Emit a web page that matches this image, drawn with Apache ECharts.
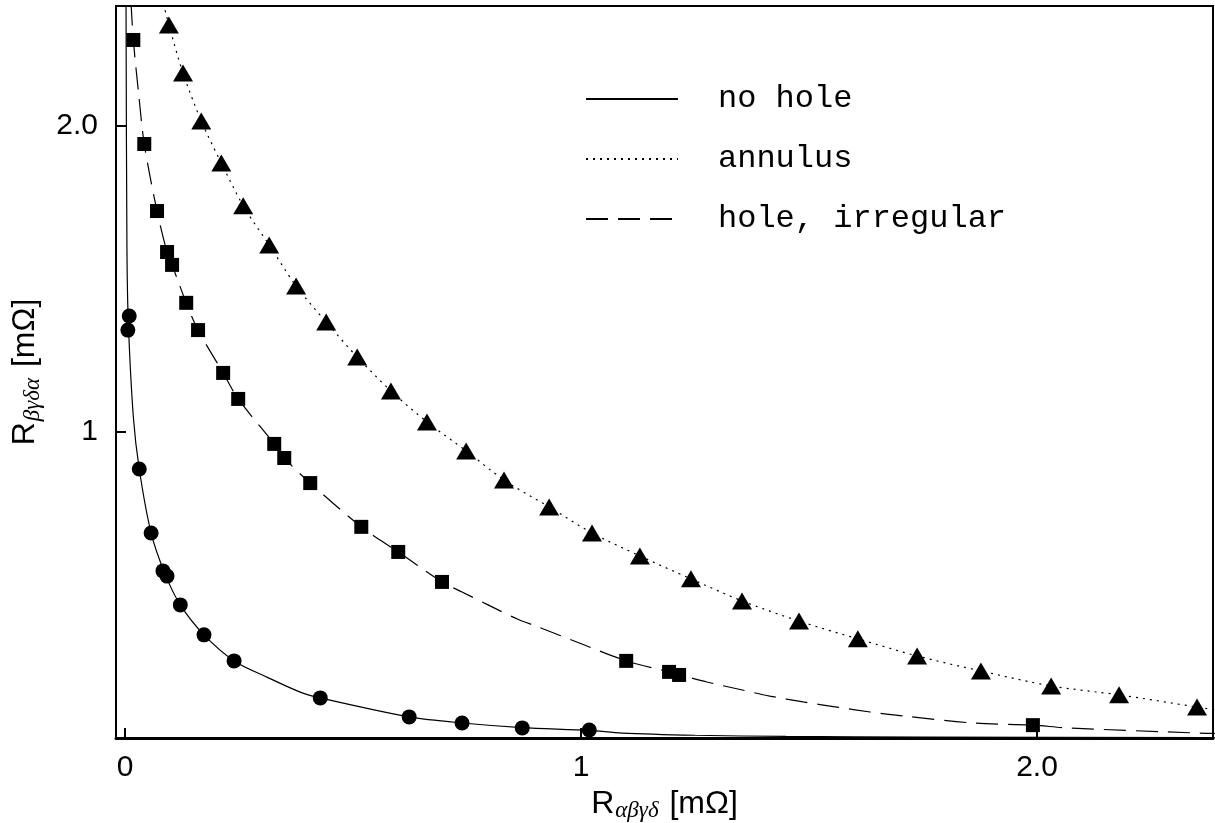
<!DOCTYPE html>
<html><head><meta charset="utf-8">
<script src="https://cdn.jsdelivr.net/npm/echarts@6/dist/echarts.min.js"></script>
<style>html,body{margin:0;padding:0;background:#fff}#c{width:1215px;height:823px}</style>
</head><body><div id="c"></div>
<script>
// ---- data ----
const xTicks = [0, 1, 2];
const xTickLabels = ['0', '1', '2.0'];
const yTicks = [1, 2];
const yTickLabels = ['1', '2.0'];
const seriesNames = ['no hole', 'annulus', 'hole, irregular'];

// measured points
const noHolePoints = [[0.009,1.379],[0.006,1.333],[0.031,0.879],[0.057,0.670],[0.083,0.546],[0.092,0.529],[0.121,0.435],[0.173,0.337],[0.239,0.252],[0.428,0.131],[0.623,0.069],[0.739,0.049],[0.871,0.033],[1.018,0.026]];
const annulusPoints = [[0.096,2.330],[0.127,2.173],[0.167,2.016],[0.211,1.879],[0.259,1.739],[0.316,1.611],[0.375,1.477],[0.441,1.359],[0.509,1.245],[0.583,1.134],[0.662,1.033],[0.748,0.938],[0.831,0.843],[0.930,0.755],[1.024,0.670],[1.129,0.595],[1.241,0.520],[1.353,0.448],[1.478,0.382],[1.607,0.324],[1.737,0.268],[1.877,0.219],[2.031,0.170],[2.180,0.141],[2.351,0.101]];
const holePoints = [[0.018,2.281],[0.042,1.941],[0.070,1.722],[0.092,1.588],[0.103,1.546],[0.134,1.422],[0.160,1.333],[0.215,1.193],[0.248,1.108],[0.327,0.961],[0.349,0.915],[0.406,0.833],[0.518,0.690],[0.599,0.608],[0.695,0.510],[1.099,0.252],[1.193,0.216],[1.215,0.206],[1.991,0.042]];

// fitted curves
const noHoleCurve = [[0.002,2.40],[0.004,1.60],[0.007,1.36],[0.018,1.05],[0.031,0.879],[0.057,0.670],[0.087,0.538],[0.121,0.435],[0.173,0.337],[0.239,0.252],[0.311,0.199],[0.384,0.150],[0.428,0.131],[0.623,0.069],[0.739,0.049],[0.871,0.034],[1.018,0.025],[1.09,0.016],[1.25,0.009],[1.45,0.005],[1.75,0.003],[2.39,0.001]];
const annulusCurve = [[0.084,2.40],[0.096,2.330],[0.127,2.173],[0.167,2.016],[0.211,1.879],[0.259,1.739],[0.316,1.611],[0.375,1.477],[0.441,1.359],[0.509,1.245],[0.583,1.134],[0.662,1.033],[0.748,0.938],[0.831,0.843],[0.930,0.755],[1.024,0.670],[1.129,0.595],[1.241,0.520],[1.353,0.448],[1.478,0.382],[1.607,0.324],[1.737,0.268],[1.877,0.219],[2.031,0.170],[2.180,0.141],[2.351,0.101],[2.39,0.092]];
const holeCurve = [[0.013,2.40],[0.018,2.281],[0.030,2.10],[0.042,1.941],[0.070,1.722],[0.092,1.588],[0.103,1.546],[0.134,1.422],[0.160,1.333],[0.215,1.193],[0.248,1.108],[0.327,0.961],[0.349,0.915],[0.406,0.833],[0.518,0.690],[0.599,0.608],[0.695,0.510],[0.739,0.477],[0.796,0.435],[0.860,0.389],[0.906,0.363],[1.002,0.307],[1.099,0.252],[1.193,0.216],[1.276,0.183],[1.344,0.160],[1.414,0.137],[1.487,0.118],[1.561,0.101],[1.634,0.085],[1.706,0.072],[1.86,0.049],[1.991,0.042],[2.066,0.033],[2.357,0.016],[2.39,0.015]];

// ---- chart ----
const chart = echarts.init(document.getElementById('c'), null, {renderer: 'canvas'});
const BLACK = '#000';
function labelFor(ticks, labels) {
  return function (v) { for (let i = 0; i < ticks.length; i++) if (Math.abs(ticks[i] - v) < 1e-9) return labels[i]; return ''; };
}
const nameRich = {
  r: {fontFamily: 'Liberation Sans', fontSize: 32, color: BLACK, lineHeight: 38},
  s: {fontFamily: 'Liberation Serif', fontStyle: 'italic', fontSize: 23, color: BLACK, lineHeight: 22, verticalAlign: 'bottom', padding: [0, 2, 0, 1]}
};
const curveLine = (name, data, type) => ({
  name: name, type: 'line', data: data, symbol: 'none', smooth: 0.3,
  lineStyle: {color: BLACK, width: 1.2, type: type}, itemStyle: {color: BLACK}, z: 2, silent: true, animation: false
});
const pts = (name, data, symbol, size) => ({
  name: name, type: 'scatter', data: data, symbol: symbol, symbolSize: size,
  itemStyle: {color: BLACK, opacity: 1}, z: 3, silent: true, animation: false
});

chart.setOption({
  animation: false,
  backgroundColor: '#fff',
  grid: {left: 116, right: 2, top: 6, bottom: 85, show: true, borderColor: BLACK, borderWidth: 2, outerBoundsMode: 'none', containLabel: false},
  legend: {
    data: seriesNames, orient: 'vertical', left: 580, top: 78, itemWidth: 92, itemHeight: 14, itemGap: 28,
    selectedMode: false,
    itemStyle: {color: 'rgba(0,0,0,0)', borderWidth: 0, opacity: 0},
    textStyle: {fontFamily: 'Liberation Mono', fontSize: 32, color: BLACK, lineHeight: 32, padding: [0, 0, 0, 35]}
  },
  xAxis: {
    type: 'value', min: -0.02, max: 2.386,
    name: '{r|R}{s|αβγδ}{r| [mΩ]}', nameLocation: 'middle', nameGap: 41, nameTextStyle: {rich: nameRich},
    axisLine: {show: true, onZero: false, lineStyle: {color: BLACK, width: 3}},
    axisTick: {show: true, inside: true, length: 10, lineStyle: {color: BLACK, width: 2}, customValues: xTicks},
    axisLabel: {show: true, margin: 15, fontFamily: 'Liberation Sans', fontSize: 30, color: BLACK, customValues: xTicks, formatter: labelFor(xTicks, xTickLabels)},
    splitLine: {show: false}
  },
  yAxis: {
    type: 'value', min: 0, max: 2.392,
    name: '{r|R}{s|βγδα}{r| [mΩ]}', nameLocation: 'middle', nameRotate: 90, nameGap: 72, nameTextStyle: {rich: nameRich},
    axisLine: {show: true, onZero: false, lineStyle: {color: BLACK, width: 2}},
    axisTick: {show: true, inside: true, length: 10, lineStyle: {color: BLACK, width: 2}, customValues: yTicks},
    axisLabel: {show: true, margin: 18, fontFamily: 'Liberation Sans', fontSize: 30, color: BLACK, customValues: yTicks, formatter: labelFor(yTicks, yTickLabels)},
    splitLine: {show: false}
  },
  series: [
    curveLine(seriesNames[0], noHoleCurve, 'solid'),
    curveLine(seriesNames[1], annulusCurve, [2, 5]),
    curveLine(seriesNames[2], holeCurve, [22, 10]),
    pts('no hole data', noHolePoints, 'circle', 15),
    pts('annulus data', annulusPoints, 'triangle', [20, 17]),
    pts('hole, irregular data', holePoints, 'rect', 14)
  ]
});
</script>
</body></html>
